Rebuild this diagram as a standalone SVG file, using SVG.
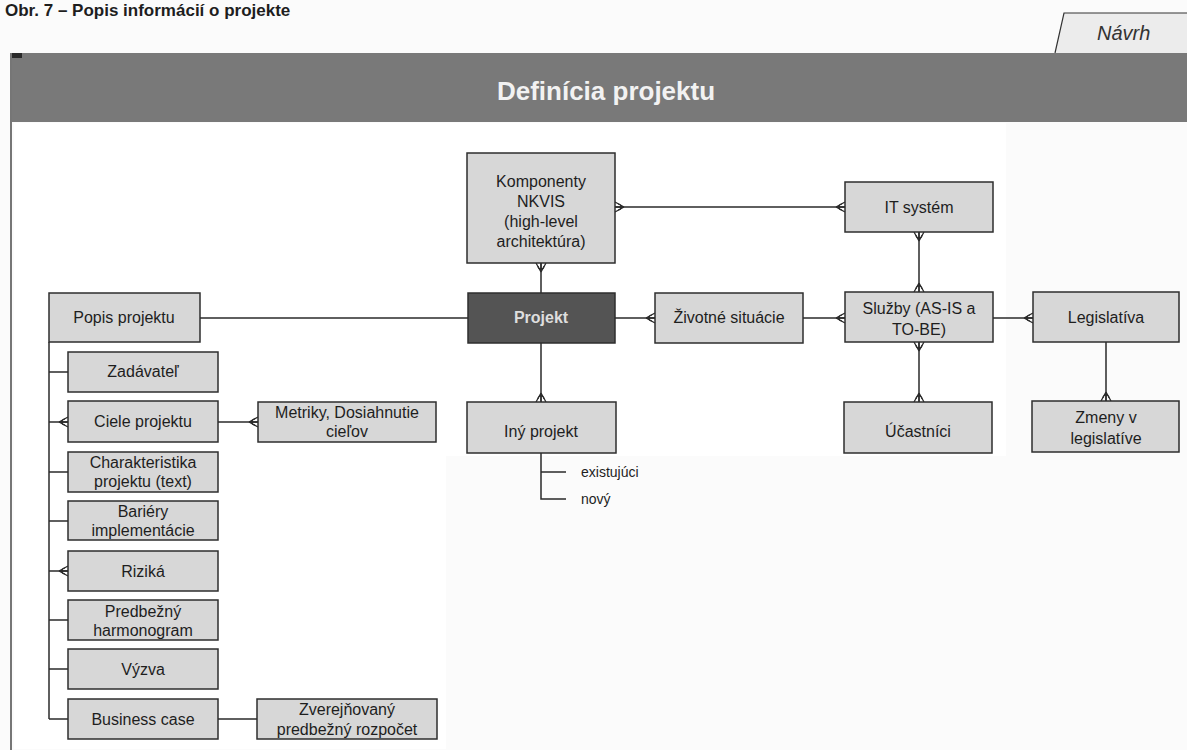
<svg xmlns="http://www.w3.org/2000/svg" width="1187" height="750" viewBox="0 0 1187 750">
  <defs>
    <style>
      .bg { fill: #fbfbfb; }
      .panel { fill: #ffffff; }
      .box { fill: #d7d7d7; stroke: #2e2e2e; stroke-width: 1.5; }
      .dark { fill: #545454; stroke: #2e2e2e; stroke-width: 1.5; }
      .t { font-family: "Liberation Sans", Arial, sans-serif; font-size: 16px; fill: #1e1e1e; text-anchor: middle; }
      .tw { font-family: "Liberation Sans", Arial, sans-serif; font-size: 16px; font-weight: bold; fill: #dedede; text-anchor: middle; }
      .lbl { font-family: "Liberation Sans", Arial, sans-serif; font-size: 14px; fill: #1e1e1e; }
      .conn { fill: none; stroke: #2a2a2a; stroke-width: 1.5; }
    </style>
    <!-- crow's foot ("many") end, drawn where the line meets the box edge -->
    <marker id="many" viewBox="-12 -7 14 14" refX="0" refY="0" markerWidth="14" markerHeight="14"
            markerUnits="userSpaceOnUse" orient="auto-start-reverse">
      <path d="M-9,0 L0,-5 M-9,0 L0,0 M-9,0 L0,5" fill="none" stroke="#2a2a2a" stroke-width="1.3"/>
      <path d="M-3,-3 A3,3 0 0 0 -3,3" fill="none" stroke="#2a2a2a" stroke-width="1.1"/>
    </marker>
  </defs>

  <!-- page -->
  <rect class="bg" x="0" y="0" width="1187" height="750"/>
  <rect class="panel" x="14" y="123" width="432" height="626"/>
  <rect class="panel" x="446" y="123" width="560" height="333"/>

  <!-- figure caption -->
  <text x="5" y="16" font-family="Liberation Sans, Arial, sans-serif" font-size="17" font-weight="bold" fill="#1e1e1e">Obr. 7 – Popis informácií o projekte</text>

  <!-- status tab -->
  <g id="tab-navrh">
    <polygon points="1055,53 1064,13 1187,13 1187,53" fill="#ececec"/>
    <polyline points="1055,53 1064,13 1187,13" fill="none" stroke="#333" stroke-width="1.2"/>
    <text x="1097" y="40" font-family="Liberation Sans, Arial, sans-serif" font-size="20" font-style="italic" fill="#333">Návrh</text>
  </g>

  <!-- header bar -->
  <g id="header">
    <rect x="12" y="53" width="1175" height="69" fill="#797979"/>
    <rect x="12" y="53" width="10" height="5" fill="#2a2a2a"/>
    <text x="606" y="100" font-family="Liberation Sans, Arial, sans-serif" font-size="26" font-weight="bold" fill="#f2f2f2" text-anchor="middle">Definícia projektu</text>
  </g>

  <!-- frame edge -->
  <line x1="11" y1="53" x2="11" y2="750" stroke="#4a4a4a" stroke-width="1.5"/>

  <!-- connectors -->
  <g id="connectors">
    <path class="conn" d="M200,318 H468"/>
    <path class="conn" d="M541,293 V263" marker-end="url(#many)"/>
    <path class="conn" d="M615,207 H845" marker-start="url(#many)" marker-end="url(#many)"/>
    <path class="conn" d="M615,318 H655" marker-end="url(#many)"/>
    <path class="conn" d="M803,318 H845" marker-end="url(#many)"/>
    <path class="conn" d="M919,232 V292" marker-start="url(#many)" marker-end="url(#many)"/>
    <path class="conn" d="M993,318 H1033" marker-end="url(#many)"/>
    <path class="conn" d="M919,342 V402" marker-start="url(#many)" marker-end="url(#many)"/>
    <path class="conn" d="M1106,342 V401" marker-end="url(#many)"/>
    <path class="conn" d="M541,343 V402" marker-end="url(#many)"/>
    <path class="conn" d="M218,422 H258" marker-end="url(#many)"/>
    <path class="conn" d="M218,719 H257"/>
    <!-- left spine with branches -->
    <path class="conn" d="M49,342 V719"/>
    <path class="conn" d="M49,372 H68"/>
    <path class="conn" d="M49,422 H68" marker-end="url(#many)"/>
    <path class="conn" d="M49,472 H68"/>
    <path class="conn" d="M49,521 H68"/>
    <path class="conn" d="M49,571 H68" marker-end="url(#many)"/>
    <path class="conn" d="M49,620 H68"/>
    <path class="conn" d="M49,669 H68"/>
    <path class="conn" d="M49,719 H68"/>
    <!-- Iný projekt variants -->
    <path class="conn" d="M541,453 V499 H566"/>
    <path class="conn" d="M541,472 H566"/>
  </g>

  <!-- nodes -->
  <g id="komponenty">
    <rect class="box" x="467" y="153" width="148" height="110"/>
    <text class="t" x="541" y="187">Komponenty</text>
    <text class="t" x="541" y="207">NKVIS</text>
    <text class="t" x="541" y="227">(high-level</text>
    <text class="t" x="541" y="247">architektúra)</text>
  </g>
  <g id="projekt">
    <rect class="dark" x="468" y="293" width="147" height="50"/>
    <text class="tw" x="541" y="323">Projekt</text>
  </g>
  <g id="zivotne-situacie">
    <rect class="box" x="655" y="293" width="148" height="50"/>
    <text class="t" x="729" y="323">Životné situácie</text>
  </g>
  <g id="it-system">
    <rect class="box" x="845" y="182" width="148" height="50"/>
    <text class="t" x="919" y="213">IT systém</text>
  </g>
  <g id="sluzby">
    <rect class="box" x="845" y="292" width="148" height="50"/>
    <text class="t" x="919" y="314">Služby (AS-IS a</text>
    <text class="t" x="919" y="335">TO-BE)</text>
  </g>
  <g id="legislativa">
    <rect class="box" x="1033" y="292" width="146" height="50"/>
    <text class="t" x="1106" y="323">Legislatíva</text>
  </g>
  <g id="iny-projekt">
    <rect class="box" x="467" y="402" width="149" height="51"/>
    <text class="t" x="541" y="437">Iný projekt</text>
  </g>
  <text class="lbl" x="581" y="477">existujúci</text>
  <text class="lbl" x="581" y="504">nový</text>
  <g id="ucastnici">
    <rect class="box" x="844" y="402" width="148" height="51"/>
    <text class="t" x="918" y="437">Účastníci</text>
  </g>
  <g id="zmeny-v-legislative">
    <rect class="box" x="1032" y="401" width="147" height="51"/>
    <text class="t" x="1106" y="423">Zmeny v</text>
    <text class="t" x="1106" y="444">legislatíve</text>
  </g>

  <g id="popis-projektu">
    <rect class="box" x="49" y="293" width="151" height="49"/>
    <text class="t" x="124" y="323">Popis projektu</text>
  </g>
  <g id="zadavatel">
    <rect class="box" x="68" y="352" width="150" height="40"/>
    <text class="t" x="143" y="377">Zadávateľ</text>
  </g>
  <g id="ciele-projektu">
    <rect class="box" x="68" y="401" width="150" height="41"/>
    <text class="t" x="143" y="427">Ciele projektu</text>
  </g>
  <g id="metriky">
    <rect class="box" x="258" y="402" width="178" height="40"/>
    <text class="t" x="347" y="418">Metriky, Dosiahnutie</text>
    <text class="t" x="347" y="437">cieľov</text>
  </g>
  <g id="charakteristika">
    <rect class="box" x="68" y="452" width="150" height="40"/>
    <text class="t" x="143" y="468">Charakteristika</text>
    <text class="t" x="143" y="487">projektu (text)</text>
  </g>
  <g id="bariery">
    <rect class="box" x="68" y="501" width="150" height="39"/>
    <text class="t" x="143" y="517">Bariéry</text>
    <text class="t" x="143" y="536">implementácie</text>
  </g>
  <g id="rizika">
    <rect class="box" x="68" y="551" width="150" height="40"/>
    <text class="t" x="143" y="577">Riziká</text>
  </g>
  <g id="harmonogram">
    <rect class="box" x="68" y="600" width="150" height="40"/>
    <text class="t" x="143" y="617">Predbežný</text>
    <text class="t" x="143" y="636">harmonogram</text>
  </g>
  <g id="vyzva">
    <rect class="box" x="68" y="649" width="150" height="40"/>
    <text class="t" x="143" y="675">Výzva</text>
  </g>
  <g id="business-case">
    <rect class="box" x="68" y="699" width="150" height="40"/>
    <text class="t" x="143" y="725">Business case</text>
  </g>
  <g id="rozpocet">
    <rect class="box" x="257" y="699" width="180" height="40"/>
    <text class="t" x="347" y="715">Zverejňovaný</text>
    <text class="t" x="347" y="735">predbežný rozpočet</text>
  </g>
</svg>
